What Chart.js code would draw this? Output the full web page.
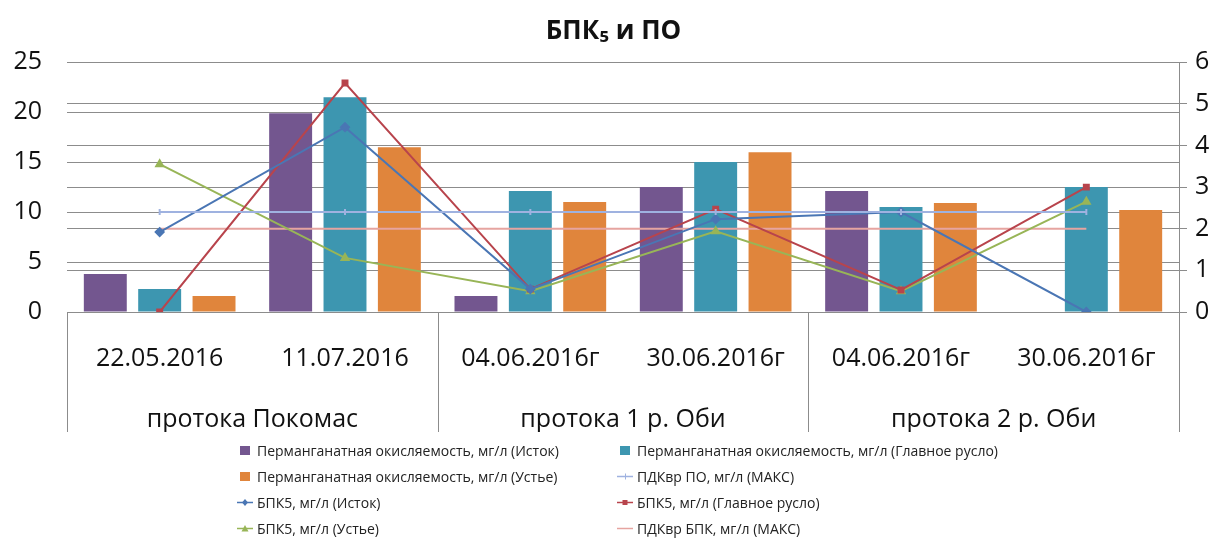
<!DOCTYPE html>
<html>
<head>
<meta charset="utf-8">
<script src="https://cdn.jsdelivr.net/npm/chart.js@4.4.1/dist/chart.umd.min.js"></script>
<style>
    html, body { margin: 0; padding: 0; background: #fff; }
    #wrap { position: relative; width: 1227px; height: 541px; font-family: 'Open Sans', 'Noto Sans', sans-serif; }
    #chart-box { position: absolute; left: 0; top: 0; width: 1227px; height: 440px; }
    #legend { position: absolute; left: 236px; top: 437px; display: grid; grid-template-columns: 380px 380px; }
    .leg-item { display: flex; align-items: center; height: 26px; font-size: 14px; color: #222; white-space: nowrap; }
    .leg-item canvas { margin-right: 3px; }
</style>
</head>
<body>
<div id="wrap">
    <div id="chart-box"><canvas id="po-chart"></canvas></div>
    <div id="legend"></div>
</div>
<script>
/* ── DATA ─────────────────────────────────────────────── */
const categories = ['22.05.2016', '11.07.2016', '04.06.2016г', '30.06.2016г', '04.06.2016г', '30.06.2016г'];
const groups = ['протока Покомас', 'протока 1 р. Оби', 'протока 2 р. Оби'];

const poSource = [3.8, 19.9, 1.6, 12.5, 12.1, null];
const poMain   = [2.3, 21.5, 12.1, 15.0, 10.5, 12.5];
const poMouth  = [1.6, 16.5, 11.0, 16.0, 10.9, 10.2];
const pdkPo    = [10, 10, 10, 10, 10, 10];

const bpkSource = [1.92, 4.44, 0.55, 2.23, 2.4, 0];
const bpkMain   = [0, 5.5, 0.55, 2.47, 0.53, 3.0];
const bpkMouth  = [3.55, 1.3, 0.5, 1.94, 0.5, 2.65];
const pdkBpk    = [2, 2, 2, 2, 2, 2];

const leftTicks = [0, 5, 10, 15, 20, 25];
const rightTicks = [0, 1, 2, 3, 4, 5, 6];

/* ── STYLE ────────────────────────────────────────────── */
const FONT = "'Open Sans', 'Noto Sans', sans-serif";
const GRID = '#8c8c8c';

const datasets = [
    { type: 'bar', label: 'Перманганатная окисляемость, мг/л (Исток)', data: poSource, backgroundColor: '#73568f', yAxisID: 'y', order: 2 },
    { type: 'bar', label: 'Перманганатная окисляемость, мг/л (Главное русло)', data: poMain, backgroundColor: '#3d96b0', yAxisID: 'y', order: 2 },
    { type: 'bar', label: 'Перманганатная окисляемость, мг/л (Устье)', data: poMouth, backgroundColor: '#e0853c', yAxisID: 'y', order: 2 },
    { type: 'line', label: 'ПДКвр ПО, мг/л (МАКС)', data: pdkPo, borderColor: '#9fb2e0', backgroundColor: '#9fb2e0',
      borderWidth: 2, pointStyle: 'line', rotation: 90, pointRadius: 3, yAxisID: 'y', order: 1, legendMark: 'tick' },
    { type: 'line', label: 'БПК5, мг/л (Исток)', data: bpkSource, borderColor: '#4a76b4', backgroundColor: '#4a76b4',
      borderWidth: 2, pointStyle: 'rectRot', pointRadius: 4, yAxisID: 'y1', order: 1, legendMark: 'rectRot' },
    { type: 'line', label: 'БПК5, мг/л (Главное русло)', data: bpkMain, borderColor: '#b8444c', backgroundColor: '#b8444c',
      borderWidth: 2, pointStyle: 'rect', pointRadius: 3.5, yAxisID: 'y1', order: 1, legendMark: 'rect' },
    { type: 'line', label: 'БПК5, мг/л (Устье)', data: bpkMouth, borderColor: '#98b557', backgroundColor: '#98b557',
      borderWidth: 2, pointStyle: 'triangle', pointRadius: 4, yAxisID: 'y1', order: 1, legendMark: 'triangle' },
    { type: 'line', label: 'ПДКвр БПК, мг/л (МАКС)', data: pdkBpk, borderColor: '#e6a4a0', backgroundColor: '#e6a4a0',
      borderWidth: 2, pointRadius: 0, yAxisID: 'y1', order: 1, legendMark: 'none' },
];
datasets.forEach(d => { if (d.type === 'line') { d.tension = 0; d.fill = false; } });

/* separators of the two-level category axis */
const groupLines = {
    id: 'groupLines',
    afterDraw(chart) {
        const x = chart.scales.x, x2 = chart.scales.x2, ctx = chart.ctx;
        const step = (x2.right - x2.left) / groups.length;
        ctx.save();
        ctx.strokeStyle = GRID;
        ctx.lineWidth = 1;
        for (let i = 0; i <= groups.length; i++) {
            const px = Math.round(x2.left + i * step) + 0.5;
            ctx.beginPath();
            ctx.moveTo(px, x.top);
            ctx.lineTo(px, x2.bottom);
            ctx.stroke();
        }
        ctx.restore();
    }
};

const chart = new Chart(document.getElementById('po-chart'), {
    data: { labels: categories, datasets },
    options: {
        responsive: true,
        maintainAspectRatio: false,
        animation: false,
        layout: { padding: { top: 0, bottom: 8, left: 0, right: 0 } },
        datasets: { bar: { categoryPercentage: 0.88, barPercentage: 0.79 } },
        plugins: {
            legend: { display: false },
            tooltip: { enabled: false },
            title: {
                display: true,
                text: 'БПК₅ и ПО',
                color: '#111',
                font: { family: FONT, size: 26, weight: 'bold' },
                padding: { top: 16, bottom: 15 },
            },
        },
        scales: {
            x: {
                position: 'bottom', weight: 1, offset: true,
                grid: { display: false },
                border: { display: false },
                ticks: { color: '#111', font: { family: FONT, size: 25 }, padding: 24, maxRotation: 0, autoSkip: false },
                afterFit: s => { s.height = 60; },
            },
            x2: {
                type: 'category', position: 'bottom', weight: 2, offset: true,
                labels: groups,
                grid: { display: false },
                border: { display: false },
                ticks: { color: '#111', font: { family: FONT, size: 25 }, padding: 25, maxRotation: 0, autoSkip: false },
                afterFit: s => { s.height = 60; },
            },
            y: {
                position: 'left', min: 0, max: 25,
                afterBuildTicks: s => { s.ticks = leftTicks.map(v => ({ value: v })); },
                grid: { color: GRID, drawTicks: false },
                border: { display: false },
                ticks: { color: '#111', font: { family: FONT, size: 25 }, padding: 25 },
                afterFit: s => { s.width = 67; },
            },
            y1: {
                position: 'right', min: 0, max: 6,
                afterBuildTicks: s => { s.ticks = rightTicks.map(v => ({ value: v })); },
                grid: { color: GRID, drawOnChartArea: true, tickLength: 8 },
                border: { display: true, color: GRID },
                ticks: { color: '#111', font: { family: FONT, size: 25 }, padding: 8 },
                afterFit: s => { s.width = 48; },
            },
        },
    },
    plugins: [groupLines],
});

/* ── LEGEND ───────────────────────────────────────────── */
const legendBox = document.getElementById('legend');
chart.data.datasets.forEach(ds => {
    const item = document.createElement('div');
    item.className = 'leg-item';
    const mark = document.createElement('canvas');
    mark.width = 18; mark.height = 12;
    const c = mark.getContext('2d');
    c.fillStyle = ds.backgroundColor;
    c.strokeStyle = ds.borderColor || ds.backgroundColor;
    if (ds.type === 'bar') {
        c.fillRect(4, 2, 10, 9);
    } else {
        c.lineWidth = 1.5;
        c.beginPath(); c.moveTo(1, 6.5); c.lineTo(17, 6.5); c.stroke();
        c.beginPath();
        if (ds.legendMark === 'rectRot') { c.moveTo(9, 3); c.lineTo(12, 6.5); c.lineTo(9, 10); c.lineTo(6, 6.5); c.fill(); }
        else if (ds.legendMark === 'rect') { c.fillRect(6.5, 4, 5, 5); }
        else if (ds.legendMark === 'triangle') { c.moveTo(9, 3); c.lineTo(12.5, 9.5); c.lineTo(5.5, 9.5); c.fill(); }
        else if (ds.legendMark === 'tick') { c.lineWidth = 1; c.moveTo(9.5, 3.5); c.lineTo(9.5, 9.5); c.stroke(); }
    }
    item.appendChild(mark);
    const txt = document.createElement('span');
    txt.textContent = ds.label;
    item.appendChild(txt);
    legendBox.appendChild(item);
});
</script>
</body>
</html>
